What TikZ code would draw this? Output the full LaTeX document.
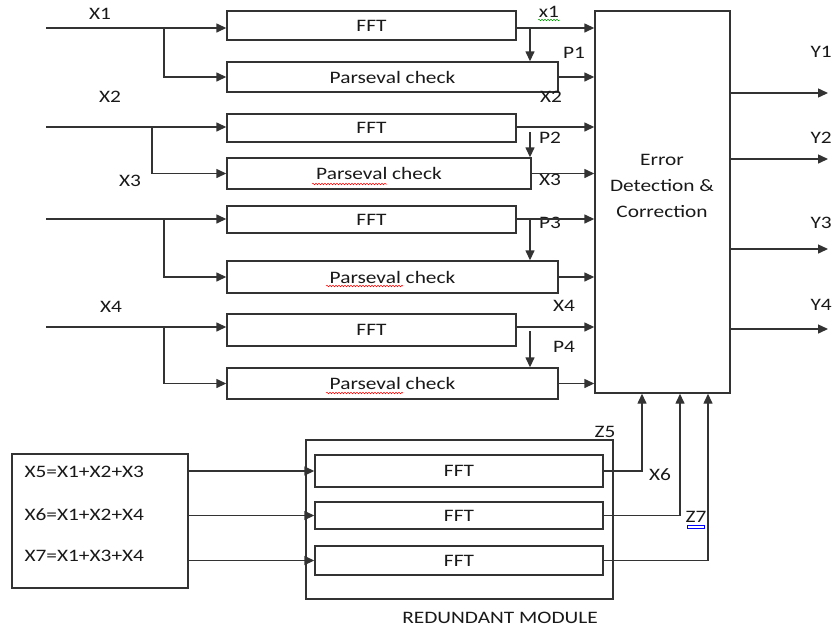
\documentclass[tikz,border=0pt]{standalone}
\usepackage{fontspec}
\setmainfont{Carlito}[FakeStretch=1.22]
\usetikzlibrary{arrows.meta,decorations.pathmorphing}

\begin{document}
\begin{tikzpicture}[x=1pt,y=-1pt,
        every node/.style={font=\fontsize{17.5pt}{20pt}\selectfont,text=black!90},
        blk/.style={draw=black!80,line width=1.4pt,inner sep=0pt},
        arr/.style={draw=black!80,line width=1.4pt,-{Triangle[length=10pt,width=9pt]}},
        spell/.style={decorate,decoration={snake,amplitude=0.8pt,segment length=3pt},line width=0.5pt}]
        \useasboundingbox (0,0) rectangle (834,630);
        \node[blk,minimum width=289pt,minimum height=29pt] (fft1) at (371.5,25.5) {FFT};
        \node[blk,minimum width=331pt,minimum height=30pt] (pc1) at (392.5,77) {Parseval check};
        \node[blk,minimum width=289pt,minimum height=28pt] (fft2) at (371.5,128) {FFT};
        \node[blk,minimum width=304pt,minimum height=31pt] (pc2) at (379,173.5) {Parseval check};
        \node[blk,minimum width=289pt,minimum height=27pt] (fft3) at (371.5,219.5) {FFT};
        \node[blk,minimum width=331pt,minimum height=32pt] (pc3) at (392.5,277) {Parseval check};
        \node[blk,minimum width=289pt,minimum height=32pt] (fft4) at (371.5,330) {FFT};
        \node[blk,minimum width=331pt,minimum height=31pt] (pc4) at (392.5,383.5) {Parseval check};
        \node[blk,minimum width=135pt,minimum height=382pt] (ecc) at (662.5,202) {};
        \node[align=center,font=\fontsize{17.5pt}{26pt}\selectfont] (ecctxt) at (662,186) {Error\\Detection \&\\Correction};
        \node (lX1) at (100,14) {X1};
        \node (lX2) at (110,97) {X2};
        \node (lX3) at (130,181) {X3};
        \node (lX4) at (111,307) {X4};
        \node (ox1) at (549,12) {x1};
        \node (op1) at (574,53) {P1};
        \node (ox2) at (551,97) {X2};
        \node (op2) at (550,138) {P2};
        \node (ox3) at (550,180) {X3};
        \node (op3) at (550,223) {P3};
        \node (ox4) at (564,306) {X4};
        \node (op4) at (564,347) {P4};
        \node[anchor=west] (ly1) at (807,52) {Y1};
        \node[anchor=west] (ly2) at (807,138) {Y2};
        \node[anchor=west] (ly3) at (807,223) {Y3};
        \node[anchor=west] (ly4) at (807,305) {Y4};
        \coordinate (in1) at (46,28);
        \coordinate (in2) at (46,127);
        \coordinate (in3) at (46,219);
        \coordinate (in4) at (46,327);
        \coordinate (s1) at (164,28);
        \coordinate (s2) at (152,127);
        \coordinate (s3) at (164,219);
        \coordinate (s4) at (164,327);
        \coordinate (t1) at (530,28);
        \coordinate (t2) at (530,132);
        \coordinate (t3) at (530,219);
        \coordinate (t4) at (530,331);
        \draw[arr] (in1) -- (in1 -| fft1.west);
        \draw[arr] (in2) -- (in2 -| fft2.west);
        \draw[arr] (in3) -- (in3 -| fft3.west);
        \draw[arr] (in4) -- (in4 -| fft4.west);
        \draw[arr] (s1) |- (pc1.west);
        \draw[arr] (s2) |- (pc2.west);
        \draw[arr] (s3) |- (pc3.west);
        \draw[arr] (s4) |- (pc4.west);
        \draw[arr] (in1 -| fft1.east) -- (in1 -| ecc.west);
        \draw[arr] (in2 -| fft2.east) -- (in2 -| ecc.west);
        \draw[arr] (in3 -| fft3.east) -- (in3 -| ecc.west);
        \draw[arr] (in4 -| fft4.east) -- (in4 -| ecc.west);
        \draw[arr] (t1) -- (t1 |- pc1.north);
        \draw[arr] (t2) -- (t2 |- pc2.north);
        \draw[arr] (t3) -- (t3 |- pc3.north);
        \draw[arr] (t4) -- (t4 |- pc4.north);
        \draw[arr] (pc1.east) -- (pc1.east -| ecc.west);
        \draw[arr] (pc2.east) -- (pc2.east -| ecc.west);
        \draw[arr] (pc3.east) -- (pc3.east -| ecc.west);
        \draw[arr] (pc4.east) -- (pc4.east -| ecc.west);
        \coordinate (o1) at (828,93);
        \coordinate (o2) at (828,159);
        \coordinate (o3) at (828,249);
        \coordinate (o4) at (828,329);
        \draw[arr] (o1 -| ecc.east) -- (o1);
        \draw[arr] (o2 -| ecc.east) -- (o2);
        \draw[arr] (o3 -| ecc.east) -- (o3);
        \draw[arr] (o4 -| ecc.east) -- (o4);
        \node[blk,minimum width=176pt,minimum height=134pt] (src) at (100,521) {};
        \node[anchor=west] (e5) at (21,472) {X5=X1+X2+X3};
        \node[anchor=west] (e6) at (21,515) {X6=X1+X2+X4};
        \node[anchor=west] (e7) at (21,556) {X7=X1+X3+X4};
        \node[blk,minimum width=307pt,minimum height=159pt] (rm) at (459.5,519.5) {};
        \node[blk,minimum width=288pt,minimum height=32pt] (f5) at (459,471) {FFT};
        \node[blk,minimum width=288pt,minimum height=27pt] (f6) at (459,515.5) {FFT};
        \node[blk,minimum width=288pt,minimum height=29pt] (f7) at (459,560.5) {FFT};
        \node (rmlbl) at (500,618) {REDUNDANT MODULE};
        \node (lz5) at (605,432) {Z5};
        \node (lx6) at (660,475) {X6};
        \node (lz7) at (696,517) {Z7};
        \draw[arr] (f5.west -| src.east) -- (f5.west);
        \draw[arr] (f6.west -| src.east) -- (f6.west);
        \draw[arr] (f7.west -| src.east) -- (f7.west);
        \draw[arr] (f5.east) -| ([xshift=-20.5pt]ecc.south);
        \draw[arr] (f6.east) -| ([xshift=17.5pt]ecc.south);
        \draw[arr] (f7.east) -| ([xshift=45.5pt]ecc.south);
        \draw[spell,green!60!black] (538,20) -- (560,20);
        \draw[spell,red] (312,184) -- (387,184);
        \draw[spell,red] (326,286) -- (403,286);
        \draw[spell,red] (326,393) -- (403,393);
        \draw[blue,line width=0.8pt] (687,525) rectangle (704,528);
\end{tikzpicture}
\end{document}
